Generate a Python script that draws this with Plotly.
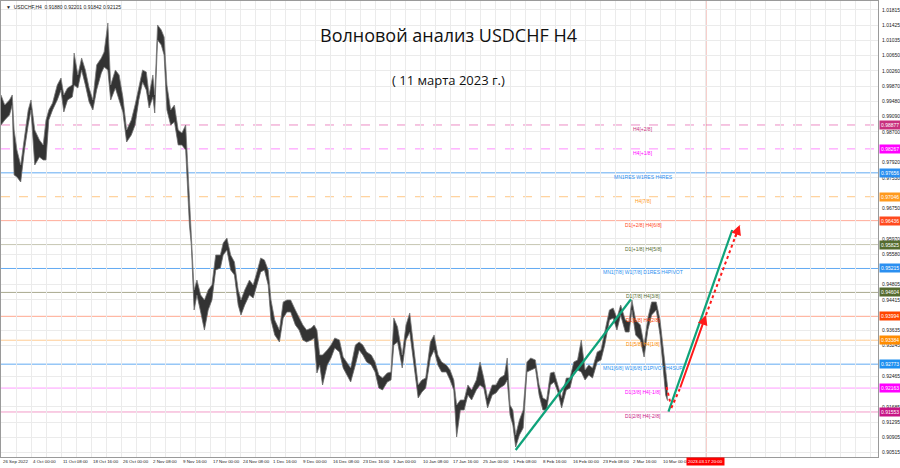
import plotly.graph_objects as go

# ---------------- data ----------------
# H4 bar index (time axis) of each sample, with the high / low range of the bars there
bar_index = [
    0, 4, 9, 12, 14, 17, 21, 25, 29, 32,
    36, 41, 45, 48, 51, 55, 60, 64, 67, 71,
    76, 78, 82, 86, 90, 94, 98, 102, 107, 110,
    114, 117, 122, 126, 130, 134, 139, 143, 147, 151,
    155, 158, 162, 164, 167, 171, 174, 177, 181, 185,
    189, 193, 197, 201, 203, 206, 209, 213, 217, 221,
    225, 229, 234, 237, 241, 245, 249, 253, 256, 260,
    265, 269, 273, 277, 281, 285, 288, 292, 297, 301,
    305, 309, 314, 318, 322, 326, 331, 334, 337, 340,
    343, 348, 352, 356, 361, 365, 369, 373, 378, 382,
    386, 390, 395, 399, 403, 407, 412, 416, 419, 423,
    428, 432, 436, 441, 445, 449, 453, 458, 462, 466,
    470, 475, 479, 483, 486, 490, 494, 498, 502, 507,
    511, 515, 519, 524, 528, 532, 537, 540, 543, 546,
    549, 553, 557, 561, 565, 570, 574, 578, 582, 586,
    590, 594, 598, 603, 607, 611, 615, 619, 623, 627,
    631, 636, 640, 644, 649, 653, 657, 661, 666, 670,
    673, 677, 682, 686, 690, 694, 699, 703, 706, 709, 711,
]
high = [
    0.99643, 0.99387, 0.99515, 0.99643, 0.98749, 0.98239, 0.97856, 0.98622, 0.99260, 0.99515,
    0.98749, 0.98494, 0.98367, 0.99005, 0.99260, 0.99438, 0.99898, 1.00076, 0.99643, 0.99821,
    0.99898, 1.00714, 1.00153, 1.00587, 1.00281, 0.99821, 0.99515, 1.00408, 1.00587, 1.00740,
    1.01480, 0.99898, 1.00281, 1.00153, 0.99592, 0.98749, 0.99005, 0.99387, 0.99821, 1.00281,
    1.00230, 0.99643, 1.00153, 0.99643, 1.01429, 1.01301, 1.01123, 0.99898, 0.99260, 0.99387,
    0.98749, 0.98673, 0.98877, 0.97091, 0.96197, 0.94666, 0.94921, 0.94539, 0.94411, 0.94666,
    0.94794, 0.95559, 0.95559, 0.95866, 0.95993, 0.95559, 0.95381, 0.94666, 0.94411, 0.94666,
    0.94921, 0.94794, 0.95126, 0.95483, 0.95432, 0.95177, 0.94411, 0.93900, 0.93645, 0.94360,
    0.94411, 0.94411, 0.94156, 0.93952, 0.93773, 0.93645, 0.93696, 0.93773, 0.93645, 0.93007,
    0.93007, 0.93135, 0.93263, 0.93441, 0.93390, 0.92956, 0.92829, 0.92676, 0.93263, 0.93339,
    0.93263, 0.93084, 0.93007, 0.92829, 0.92497, 0.92420, 0.92548, 0.92574, 0.93952, 0.93722,
    0.93007, 0.93773, 0.94079, 0.93007, 0.92242, 0.92369, 0.92420, 0.93339, 0.93518, 0.93007,
    0.92829, 0.92752, 0.92625, 0.92369, 0.91731, 0.91859, 0.91859, 0.92242, 0.92114, 0.92369,
    0.92829, 0.92420, 0.91910, 0.92242, 0.92242, 0.92420, 0.92497, 0.92931, 0.91731, 0.91604,
    0.90966, 0.91349, 0.91604, 0.92829, 0.92931, 0.92880, 0.92242, 0.91910, 0.91859, 0.92548,
    0.92574, 0.92242, 0.91910, 0.92420, 0.92420, 0.92829, 0.92880, 0.93390, 0.92625, 0.92752,
    0.92676, 0.93084, 0.93135, 0.93594, 0.94156, 0.94207, 0.93952, 0.94283, 0.93900, 0.93849,
    0.94411, 0.93900, 0.93773, 0.93263, 0.93952, 0.94360, 0.94360, 0.93900, 0.93263, 0.92497, 0.92201,
]
low = [
    0.98877, 0.99005, 0.99132, 0.99387, 0.97601, 0.97550, 0.97422, 0.98239, 0.98877, 0.99260,
    0.97856, 0.98060, 0.97984, 0.97984, 0.99005, 0.99260, 0.99515, 0.99770, 0.99209, 0.99515,
    0.99592, 0.99898, 0.99821, 1.00281, 0.99898, 0.99464, 0.99260, 0.99770, 1.00204, 1.00357,
    1.00281, 0.99515, 0.99821, 0.99515, 0.99209, 0.98443, 0.98622, 0.98877, 0.99515, 0.99974,
    0.99770, 0.99311, 0.99592, 0.99183, 1.01046, 1.00919, 1.00663, 0.99260, 0.98877, 0.98954,
    0.98367, 0.98367, 0.98239, 0.96325, 0.95815, 0.94156, 0.94539, 0.94105, 0.93645, 0.94156,
    0.94411, 0.95177, 0.95228, 0.95559, 0.95687, 0.95177, 0.95050, 0.94283, 0.94028, 0.94283,
    0.94539, 0.94462, 0.94794, 0.95126, 0.95177, 0.94794, 0.93900, 0.93518, 0.93339, 0.93952,
    0.94105, 0.94105, 0.93773, 0.93645, 0.93390, 0.93339, 0.93390, 0.93441, 0.92548, 0.92752,
    0.92242, 0.92752, 0.92931, 0.93186, 0.93084, 0.92676, 0.92497, 0.92318, 0.92752, 0.93135,
    0.93007, 0.92829, 0.92752, 0.92574, 0.92165, 0.92114, 0.92318, 0.92369, 0.93263, 0.93339,
    0.92676, 0.93390, 0.93594, 0.92574, 0.91910, 0.92063, 0.92165, 0.92931, 0.93135, 0.92752,
    0.92574, 0.92574, 0.92369, 0.92114, 0.90915, 0.91604, 0.91604, 0.91987, 0.91859, 0.92114,
    0.92242, 0.92165, 0.91655, 0.91987, 0.92038, 0.92165, 0.92242, 0.92369, 0.91476, 0.91221,
    0.90660, 0.90966, 0.91144, 0.92574, 0.92625, 0.92676, 0.91987, 0.91604, 0.91604, 0.92242,
    0.92318, 0.92063, 0.91655, 0.92114, 0.92165, 0.92574, 0.92625, 0.92574, 0.92369, 0.92497,
    0.92420, 0.92829, 0.92880, 0.93263, 0.93900, 0.93952, 0.93645, 0.94028, 0.93594, 0.93594,
    0.94156, 0.93518, 0.93390, 0.92956, 0.93645, 0.94028, 0.94156, 0.93518, 0.92752, 0.91987, 0.91842,
]

tick_bars = [0, 32, 64, 96, 128, 160, 192, 224, 256, 288, 320, 352,
             384, 416, 448, 480, 512, 544, 576, 608, 640, 672, 704]
tick_labels = ["26 Sep 2022", "4 Oct 00:00", "11 Oct 08:00", "18 Oct 16:00", "26 Oct 00:00",
               "2 Nov 08:00", "9 Nov 16:00", "17 Nov 00:00", "24 Nov 08:00", "1 Dec 16:00",
               "9 Dec 00:00", "16 Dec 08:00", "23 Dec 16:00", "3 Jan 00:00", "10 Jan 08:00",
               "17 Jan 16:00", "25 Jan 00:00", "1 Feb 08:00", "8 Feb 16:00", "16 Feb 00:00",
               "23 Feb 08:00", "2 Mar 16:00", "10 Mar 00:00"]

price_ticks = [1.01815, 1.01425, 1.01035, 1.00650, 1.00260, 0.99870, 0.99480, 0.99090,
               0.98700, 0.98310, 0.97920, 0.97530, 0.97140, 0.96750, 0.96360, 0.95970,
               0.95580, 0.95190, 0.94805, 0.94415, 0.94025, 0.93635, 0.93245, 0.92855,
               0.92465, 0.92075, 0.91685, 0.91295, 0.90905, 0.90515]

level_prices = [0.98877, 0.98267, 0.97656, 0.97046, 0.96436, 0.95825, 0.95215,
                0.94604, 0.93994, 0.93384, 0.92773, 0.92163, 0.91553]
level_names = ["H4[+2/8]", "H4[+1/8]", "MN1RES W1RES H4RES", "H4[7/8]",
               "D1[+2/8] H4[6/8]", "D1[+1/8] H4[5/8]", "MN1[7/8] W1[7/8] D1RES H4PIVOT",
               "D1[7/8] H4[3/8]", "D1[6/8] H4[2/8]", "D1[5/8] H4[1/8]",
               "MN1[6/8] W1[6/8] D1PIVOT H4SUP", "D1[3/8] H4[-1/8]", "D1[2/8] H4[-2/8]"]
level_line_colors = ["#ec8cc4", "#ff8cff", "#62aaf2", "#ffc784", "#ffab98", "#c6c6b2",
                     "#62aaf2", "#a9a98e", "#ffa890", "#ffcc94", "#62aaf2", "#ff9cff", "#f29cc8"]
level_box_colors = ["#c8307e", "#ff00ff", "#2b8ff0", "#ff9a1e", "#ff4a1e", "#556b2f",
                    "#2b8ff0", "#556b2f", "#ff4500", "#ff8c00", "#1e8ff0", "#ff00ff", "#c71585"]
level_dashed = [True, True, False, True, False, False, False, False, False, False, False, False, False]
level_label_bar = 685

header_text = "▼  USDCHF,H4  0.91880 0.92201 0.91842 0.92125"
title_text = "Волновой анализ USDCHF H4"
subtitle_text = "( 11 марта 2023 г.)"

cursor_bar = 752
cursor_label = "2023.03.17 20:00"

green_a_bar = [549, 672]
green_a_price = [0.90583, 0.94429]
green_b_bar = [712, 780]
green_b_price = [0.91560, 0.96197]
red_down_bar = [710, 714]
red_down_price = [0.92191, 0.91783]
red_dot1_bar = [715, 724]
red_dot1_price = [0.91655, 0.92140]
red_solid_bar = [724, 752]
red_solid_price = [0.92140, 0.94028]
red_dot2_bar = [752, 788]
red_dot2_price = [0.94028, 0.96325]

assert len(bar_index) == len(high) == len(low)

# ---------------- figure ----------------
FONT = "Liberation Sans"
GREEN = "#0fa37a"
RED = "#ff1a1a"
SMALL = 5.0
XSMALL = 4.4

fig = go.Figure()

# price bars drawn as the high/low envelope
fig.add_trace(go.Scatter(x=bar_index, y=low, mode="lines",
                         line=dict(color="#6a6a6a", width=0.8), hoverinfo="skip"))
fig.add_trace(go.Scatter(x=bar_index, y=high, mode="lines", fill="tonexty",
                         fillcolor="#333333", line=dict(color="#7a7a7a", width=0.8),
                         hoverinfo="skip"))

# wave lines
fig.add_trace(go.Scatter(x=green_a_bar, y=green_a_price, mode="lines",
                         line=dict(color=GREEN, width=2.2)))
fig.add_trace(go.Scatter(x=green_b_bar, y=green_b_price, mode="lines",
                         line=dict(color=GREEN, width=2.2)))
for bx, py in [(red_down_bar, red_down_price), (red_dot1_bar, red_dot1_price),
               (red_dot2_bar, red_dot2_price)]:
    fig.add_trace(go.Scatter(x=bx, y=py, mode="lines",
                             line=dict(color=RED, width=2, dash="dot")))

annotations = []


def arrow(bx, py, full=False):
    if full:
        tx, ty = bx[0], py[0]
    else:
        tx = bx[1] - 0.15 * (bx[1] - bx[0])
        ty = py[1] - 0.15 * (py[1] - py[0])
    return dict(x=bx[1], y=py[1], ax=tx, ay=ty, xref="x", yref="y", axref="x", ayref="y",
                showarrow=True, arrowhead=2, arrowsize=1.0, arrowwidth=2, arrowcolor=RED,
                text="")


annotations.append(arrow(red_solid_bar, red_solid_price, full=True))
annotations.append(arrow(red_down_bar, red_down_price))
annotations.append(arrow(red_dot1_bar, red_dot1_price))
annotations.append(arrow(red_dot2_bar, red_dot2_price))

shapes = []
for p, c, d in zip(level_prices, level_line_colors, level_dashed):
    shapes.append(dict(type="line", xref="paper", x0=0, x1=1, yref="y", y0=p, y1=p,
                       line=dict(color=c, width=1, dash="dash" if d else "solid"),
                       layer="below"))
shapes.append(dict(type="line", xref="x", x0=cursor_bar, x1=cursor_bar, yref="paper",
                   y0=0, y1=1, line=dict(color="rgba(232,120,110,0.75)", width=1),
                   layer="below"))

for p, name, c in zip(level_prices, level_names, level_box_colors):
    annotations.append(dict(x=level_label_bar, y=p, xref="x", yref="y", text=name,
                            showarrow=False, xanchor="center", yanchor="top", yshift=1,
                            font=dict(family=FONT, size=SMALL, color=c)))
    annotations.append(dict(x=1, y=p, xref="paper", yref="y", text=f"{p:.5f}",
                            showarrow=False, xanchor="left", yanchor="middle", xshift=1,
                            bgcolor=c, borderpad=1,
                            font=dict(family=FONT, size=SMALL, color="white")))

for b, t in zip(tick_bars, tick_labels):
    annotations.append(dict(x=b, y=0, xref="x", yref="paper", text=t, showarrow=False,
                            xanchor="left", yanchor="top", yshift=0, xshift=0,
                            font=dict(family=FONT, size=XSMALL, color="#202020")))
annotations.append(dict(x=cursor_bar, y=0, xref="x", yref="paper", text=cursor_label,
                        showarrow=False, xanchor="center", yanchor="top", yshift=0,
                        bgcolor="#ff0000", borderpad=1,
                        font=dict(family=FONT, size=XSMALL, color="white")))

annotations.append(dict(x=0.003, y=0.997, xref="paper", yref="paper", text=header_text,
                        showarrow=False, xanchor="left", yanchor="top",
                        font=dict(family=FONT, size=SMALL, color="#202020")))
annotations.append(dict(x=0.5105, y=0.925, xref="paper", yref="paper", text=title_text,
                        showarrow=False, xanchor="center", yanchor="middle",
                        font=dict(family="Open Sans", size=18, color="#111111")))
annotations.append(dict(x=0.5105, y=0.827, xref="paper", yref="paper", text=subtitle_text,
                        showarrow=False, xanchor="center", yanchor="middle",
                        font=dict(family="Open Sans", size=13, color="#111111")))

# price-scale labels that sit under a level box are hidden, as in the terminal
visible_ticks = [v for v in price_ticks if min(abs(v - p) for p in level_prices) > 0.0011]

fig.update_layout(
    width=900, height=468,
    margin=dict(l=1, r=22, t=1, b=11, autoexpand=False),
    paper_bgcolor="white", plot_bgcolor="white",
    showlegend=False,
    shapes=shapes, annotations=annotations,
    xaxis=dict(range=[0, 935.5], showgrid=True, gridcolor="#ebebeb", gridwidth=1,
               tick0=0, dtick=16, showticklabels=False, ticks="", zeroline=False,
               showline=True, linecolor="#9a9a9a", linewidth=1, mirror=True),
    yaxis=dict(range=[0.90404, 1.02041], side="right", tickmode="array",
               tickvals=visible_ticks, ticktext=[f"{v:.5f}" for v in visible_ticks],
               tickfont=dict(family=FONT, size=SMALL, color="#202020"),
               showgrid=True, gridcolor="#ebebeb", gridwidth=1, zeroline=False,
               ticks="", ticklabelstandoff=2,
               showline=True, linecolor="#9a9a9a", linewidth=1, mirror=True),
)

fig.write_html("out.html", config={"displayModeBar": False},
               post_script="document.body.style.margin='0';document.body.style.padding='0';")
